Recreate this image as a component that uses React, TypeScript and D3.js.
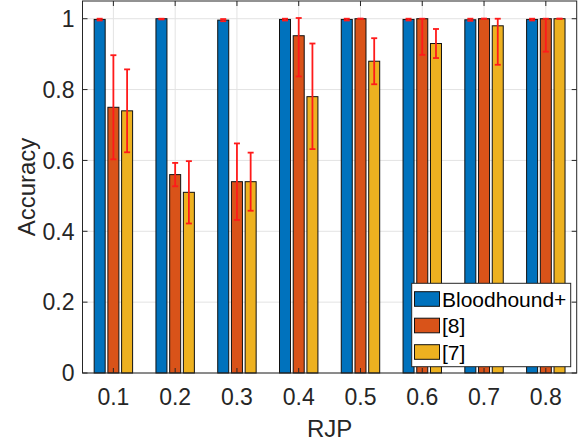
import React from "react";
import * as d3 from "d3";

const categories = ["0.1", "0.2", "0.3", "0.4", "0.5", "0.6", "0.7", "0.8"];
const seriesNames = ["Bloodhound+", "[8]", "[7]"];
const seriesColors = ["#0072BD", "#D95319", "#EDB120"];

const bloodhound = [0.998, 1.0, 0.996, 0.998, 0.998, 0.998, 0.997, 0.998];
const ref8 = [0.75, 0.56, 0.54, 0.952, 1.0, 1.0, 1.0, 1.0];
const ref7 = [0.74, 0.51, 0.54, 0.78, 0.88, 0.93, 0.98, 1.0];

const bloodhoundLo = [0.003, 0.002, 0.003, 0.003, 0.003, 0.003, 0.003, 0.003];
const bloodhoundHi = [0.002, 0.0, 0.003, 0.002, 0.002, 0.002, 0.003, 0.002];
const ref8Lo = [0.147, 0.033, 0.108, 0.115, 0.0, 0.102, 0.0, 0.093];
const ref8Hi = [0.147, 0.033, 0.108, 0.05, 0.0, 0.0, 0.0, 0.0];
const ref7Lo = [0.117, 0.088, 0.082, 0.148, 0.065, 0.041, 0.11, 0.0];
const ref7Hi = [0.117, 0.088, 0.082, 0.15, 0.065, 0.041, 0.02, 0.0];

const yTicks = [0, 0.2, 0.4, 0.6, 0.8, 1];

const W = 581;
const H = 442;
const L = 82.5;
const R = 576.7;
const T = 1;
const B = 373;
const AX = "#262626";

export default function App() {
  const x = d3.scaleLinear().domain([0.5, 8.5]).range([L, R]);
  const y = d3.scaleLinear().domain([0, 1.05]).range([B, T]);
  const unit = x(2) - x(1);
  const offset = 0.222 * unit;
  const bw = 0.178 * unit;
  const vals = [bloodhound, ref8, ref7];
  const lo = [bloodhoundLo, ref8Lo, ref7Lo];
  const hi = [bloodhoundHi, ref8Hi, ref7Hi];
  const font = "'Liberation Sans', Arial, Helvetica, sans-serif";
  const tickLen = 5;

  return (
    <svg width={W} height={H} style={{ position: "absolute", left: 0, top: 0, background: "#fff" }} fontFamily={font}>
      <rect x={0} y={0} width={W} height={H} fill="#fff" />
      {/* grid */}
      <g stroke="#e3e3e3" strokeWidth={1}>
        {yTicks.map((t) => (
          <line key={"gy" + t} x1={L} x2={R} y1={y(t)} y2={y(t)} />
        ))}
        {categories.map((c, i) => (
          <line key={"gx" + c} x1={x(i + 1)} x2={x(i + 1)} y1={T} y2={B} />
        ))}
      </g>
      {/* bars */}
      {vals.map((arr, s) => (
        <g key={"s" + s}>
          {arr.map((v, i) => {
            const cx = x(i + 1) + (s - 1) * offset;
            return (
              <rect
                key={i}
                x={cx - bw / 2}
                y={y(v)}
                width={bw}
                height={y(0) - y(v)}
                fill={seriesColors[s]}
                stroke="#111"
                strokeWidth={1}
              />
            );
          })}
        </g>
      ))}
      {/* error bars */}
      {vals.map((arr, s) => (
        <g key={"e" + s} stroke="#ff1a1a" strokeWidth={1.8}>
          {arr.map((v, i) => {
            const cx = x(i + 1) + (s - 1) * offset;
            const y1 = y(v + hi[s][i]);
            const y2 = y(v - lo[s][i]);
            return (
              <g key={i}>
                <line x1={cx} x2={cx} y1={y1} y2={y2} />
                <line x1={cx - 3} x2={cx + 3} y1={y1} y2={y1} />
                <line x1={cx - 3} x2={cx + 3} y1={y2} y2={y2} />
              </g>
            );
          })}
        </g>
      ))}
      {/* axes box and ticks */}
      <g stroke={AX} strokeWidth={1} fill="none">
        <rect x={L} y={T} width={R - L} height={B - T} />
        {yTicks.map((t) => (
          <g key={"ty" + t}>
            <line x1={L} x2={L + tickLen} y1={y(t)} y2={y(t)} />
            <line x1={R} x2={R - tickLen} y1={y(t)} y2={y(t)} />
          </g>
        ))}
        {categories.map((c, i) => (
          <g key={"tx" + c}>
            <line x1={x(i + 1)} x2={x(i + 1)} y1={B} y2={B - tickLen} />
            <line x1={x(i + 1)} x2={x(i + 1)} y1={T} y2={T + tickLen} />
          </g>
        ))}
      </g>
      {/* tick labels */}
      <g fill={AX} fontSize={23}>
        {yTicks.map((t) => (
          <text key={"ly" + t} x={L - 8} y={y(t)} dy="0.36em" textAnchor="end">
            {d3.format("~g")(t)}
          </text>
        ))}
        {categories.map((c, i) => (
          <text key={"lx" + c} x={x(i + 1)} y={404.5} textAnchor="middle">
            {c}
          </text>
        ))}
      </g>
      <text x={(L + R) / 2} y={436.5} textAnchor="middle" fontSize={24} fill={AX}>
        RJP
      </text>
      <text
        transform={`translate(35, ${(T + B) / 2}) rotate(-90)`}
        textAnchor="middle"
        fontSize={24}
        fill={AX}
      >
        Accuracy
      </text>
      {/* legend */}
      <g>
        <rect x={411.7} y={283.3} width={159} height={83.4} fill="#fff" stroke="#262626" strokeWidth={1} />
        {seriesNames.map((n, k) => {
          const cy = 299 + k * 26.5;
          return (
            <g key={n}>
              <rect x={414.5} y={cy - 7.3} width={25} height={14.6} fill={seriesColors[k]} stroke="#111" strokeWidth={1} />
              <text x={442} y={cy + 7.5} fontSize={21} fill="#000">
                {n}
              </text>
            </g>
          );
        })}
      </g>
    </svg>
  );
}
